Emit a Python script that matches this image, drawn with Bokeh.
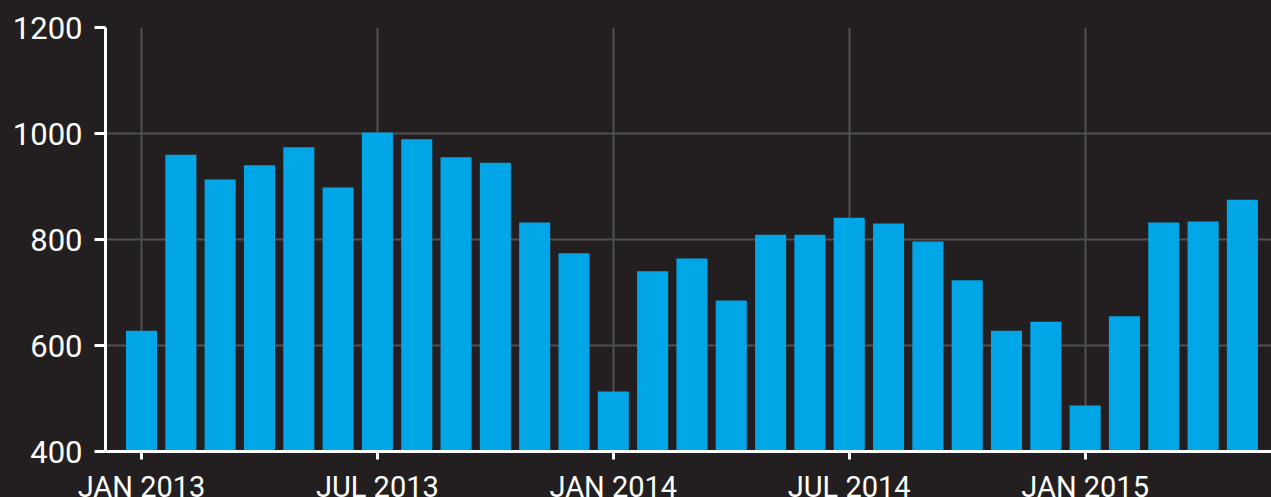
from bokeh.plotting import figure
from bokeh.models import FixedTicker, ColumnDataSource, Range1d
from bokeh.embed import file_html
from bokeh.resources import INLINE

# Monthly values, Jan 2013 .. May 2015
values = [628, 960, 913, 940, 974, 898, 1002, 989, 955, 945, 832, 774,
          513, 740, 764, 685, 809, 809, 841, 830, 796, 723, 628, 645,
          487, 655, 832, 834, 875]
tick_positions = [0, 6, 12, 18, 24]
tick_labels = ["JAN 2013", "JUL 2013", "JAN 2014", "JUL 2014", "JAN 2015"]
y_ticks = [400, 600, 800, 1000, 1200]

BG = "#231f20"
BAR = "#00a6e6"
GRID = "#505050"
FONT = "Roboto"

x = list(range(len(values)))
src = ColumnDataSource(dict(x=x, top=values))

p = figure(output_backend="svg", toolbar_location=None,
           frame_width=1166, frame_height=424,
           x_range=Range1d(-0.916, 28.74), y_range=Range1d(400, 1200),
           min_border_top=27, min_border_left=105, min_border_right=0,
           min_border_bottom=0)
p.background_fill_color = BG
p.border_fill_color = BG
p.outline_line_color = None

p.vbar(x="x", top="top", bottom=400, width=0.79, source=src,
       fill_color=BAR, line_color=None)

for ax in (p.xaxis[0], p.yaxis[0]):
    ax.axis_line_color = "white"
    ax.major_tick_line_color = "white"
    ax.minor_tick_line_color = None
    ax.major_tick_in = 0
    ax.major_label_text_color = "white"
    ax.major_label_text_font = FONT

p.yaxis.major_label_text_font_size = "31px"
p.xaxis.major_label_text_font_size = "29px"

p.yaxis.ticker = FixedTicker(ticks=y_ticks)
p.yaxis.axis_line_width = 3
p.yaxis.major_tick_line_width = 3
p.yaxis.major_tick_out = 11
p.yaxis.major_label_standoff = 12

p.xaxis.ticker = FixedTicker(ticks=tick_positions)
p.xaxis.major_label_overrides = {t: l for t, l in zip(tick_positions, tick_labels)}
p.xaxis.axis_line_width = 3
p.xaxis.major_tick_line_width = 3
p.xaxis.major_tick_out = 8
p.xaxis.major_label_standoff = 10

p.xgrid.ticker = FixedTicker(ticks=tick_positions)
p.ygrid.ticker = FixedTicker(ticks=y_ticks)
for g in (p.xgrid[0], p.ygrid[0]):
    g.grid_line_color = GRID
    g.grid_line_width = 2

html = file_html(p, INLINE)
html = html.replace("<head>", "<head><style>html,body{background:%s;overflow:hidden;}</style>" % BG, 1)
open("out.html", "w").write(html)
